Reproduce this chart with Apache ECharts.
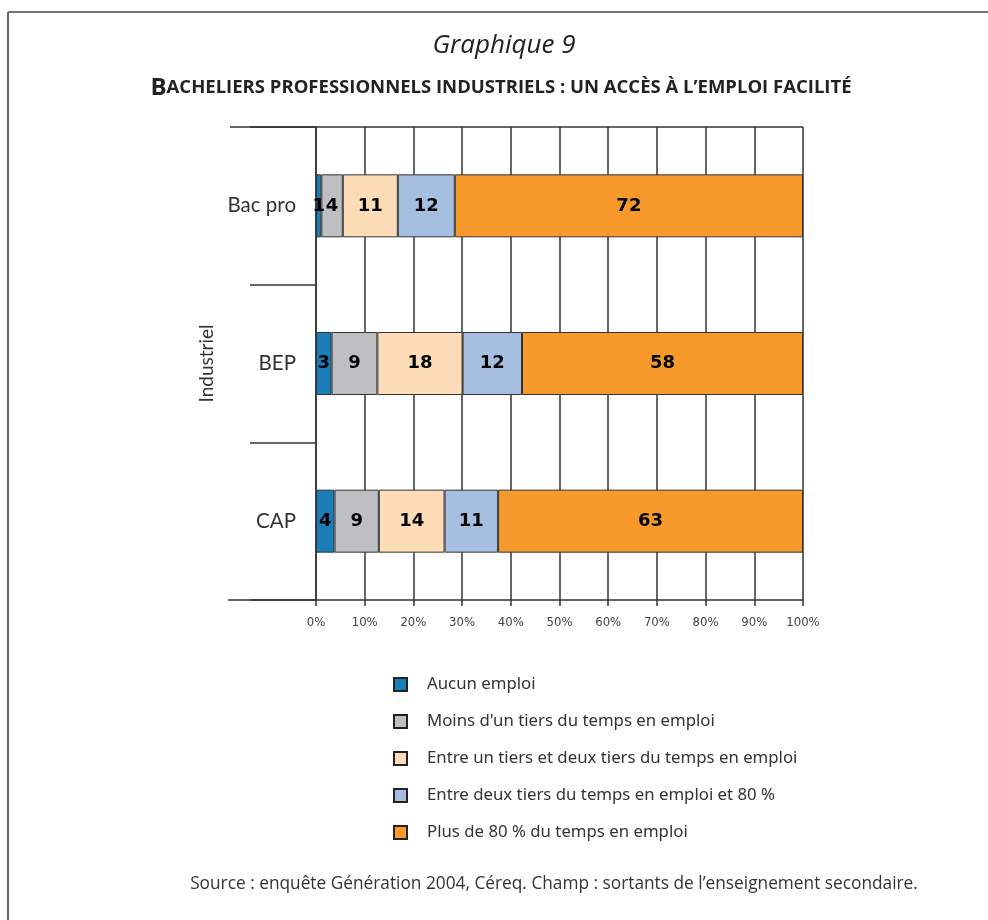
<!DOCTYPE html>
<html>
<head>
<meta charset="utf-8">
<title>Graphique 9</title>
<script src="https://cdn.jsdelivr.net/npm/echarts@6/dist/echarts.min.js"></script>
<style>
html, body { margin: 0; padding: 0; background: #fff; }
#chart { width: 988px; height: 920px; }
</style>
</head>
<body>
<div id="chart"></div>
<script>
// categories (axe vertical, de haut en bas)
var categories = ['Bac pro', 'BEP', 'CAP'];
var aucunEmploi = [1.1, 3.2, 3.8];
var moinsTiers = [4.4, 9.4, 9.1];
var entreTiers = [11.3, 17.5, 13.5];
var deuxTiers80 = [11.7, 12.2, 11.0];
var plus80 = [71.5, 57.7, 62.6];
var seriesNames = [
	'Aucun emploi',
	"Moins d'un tiers du temps en emploi",
	'Entre un tiers et deux tiers du temps en emploi',
	'Entre deux tiers du temps en emploi et 80 %',
	'Plus de 80 % du temps en emploi'
];
var colors = ['#1b7db8', '#bdbfc2', '#fedcb8', '#a6bedf', '#f7992b'];
var tickLabels = [0, 10, 20, 30, 40, 50, 60, 70, 80, 90, 100];

var font = 'Lato, "Noto Sans", sans-serif';
var myChart = echarts.init(document.getElementById('chart'));

function makeSeries(name, data, color) {
	return {
		name: name,
		type: 'bar',
		stack: 'total',
		barWidth: 63,
		data: data,
		itemStyle: { color: color, borderColor: '#333', borderWidth: 1 },
		label: {
			show: true,
			position: 'inside',
			formatter: function(p) { return Math.round(p.value); },
			color: '#000',
			fontFamily: '"DejaVu Sans", sans-serif',
			fontWeight: 'bold',
			fontSize: 18
		}
	};
}

var allData = [aucunEmploi, moinsTiers, entreTiers, deuxTiers80, plus80];
var series = allData.map(function(d, i) {
	return makeSeries(seriesNames[i], d, colors[i]);
});

var option = {
	backgroundColor: '#fff',
	animation: false,
	legend: {
		orient: 'vertical',
		left: 393, top: 676,
		padding: 0,
		itemWidth: 13, itemHeight: 13,
		itemGap: 20,
		icon: 'rect',
		itemStyle: { borderColor: '#222', borderWidth: 2 },
		textStyle: { fontFamily: '"Noto Sans", sans-serif', fontSize: 16.8, color: '#333', lineHeight: 16, padding: [0, 0, 0, 15] },
		data: seriesNames
	},
	grid: { left: 316, right: 185, top: 127, bottom: 320, containLabel: false },
	xAxis: {
		type: 'value',
		min: tickLabels[0], max: tickLabels[tickLabels.length - 1], interval: 10,
		axisLine: { show: true, lineStyle: { color: '#333', width: 1.5 } },
		axisTick: { show: true, length: 6, lineStyle: { color: '#333', width: 1.5 } },
		splitLine: { show: true, lineStyle: { color: '#333', width: 1.5 } },
		axisLabel: { formatter: '{value}%', fontFamily: '"DejaVu Sans Condensed", "DejaVu Sans", sans-serif', fontSize: 13, color: '#444', margin: 16 }
	},
	yAxis: {
		type: 'category',
		inverse: true,
		data: categories,
		name: 'Industriel',
		nameLocation: 'middle',
		nameGap: 100,
		nameRotate: 90,
		nameTextStyle: { fontFamily: font, fontSize: 19, color: '#333' },
		axisLine: { show: true, lineStyle: { color: '#333', width: 1.5 } },
		axisTick: { show: true, length: 66, lineStyle: { color: '#333', width: 1.5 } },
		axisLabel: { fontFamily: font, fontSize: 20.5, color: '#333', margin: 20 }
	},
	graphic: [
		// cadre : trait du haut et trait de gauche
		{ type: 'line', shape: { x1: 8, y1: 12, x2: 988, y2: 12 }, style: { stroke: '#444', lineWidth: 1.5 } },
		{ type: 'line', shape: { x1: 8, y1: 12, x2: 8, y2: 920 }, style: { stroke: '#666', lineWidth: 2 } },
		// traits du haut et du bas prolongés à gauche
		{ type: 'line', shape: { x1: 230, y1: 127, x2: 803, y2: 127 }, style: { stroke: '#333', lineWidth: 1.5 } },
		{ type: 'line', shape: { x1: 228, y1: 600, x2: 316, y2: 600 }, style: { stroke: '#333', lineWidth: 1.5 } },
		// titres
		{
			type: 'text', x: 504, y: 46,
			style: { text: 'Graphique 9', font: 'italic 26px "Open Sans", sans-serif', fill: '#222', align: 'center', verticalAlign: 'middle' }
		},
		{
			// petites capitales simulées avec du texte riche
			type: 'text', x: 501, y: 88,
			style: {
				text: '{b|B}{s|ACHELIERS PROFESSIONNELS INDUSTRIELS : UN ACCÈS À L’EMPLOI FACILITÉ}',
				align: 'center', verticalAlign: 'middle',
				rich: {
					b: { font: 'bold 24px "Open Sans", sans-serif', fill: '#222' },
					s: { font: 'bold 18.5px "Open Sans", sans-serif', fill: '#222' }
				}
			}
		},
		{
			type: 'text', x: 554, y: 884,
			style: { text: 'Source : enquête Génération 2004, Céreq. Champ : sortants de l’enseignement secondaire.', font: '17.3px "Open Sans", sans-serif', fill: '#333', align: 'center', verticalAlign: 'middle' }
		}
	],
	series: series
};

myChart.setOption(option);
</script>
</body>
</html>
